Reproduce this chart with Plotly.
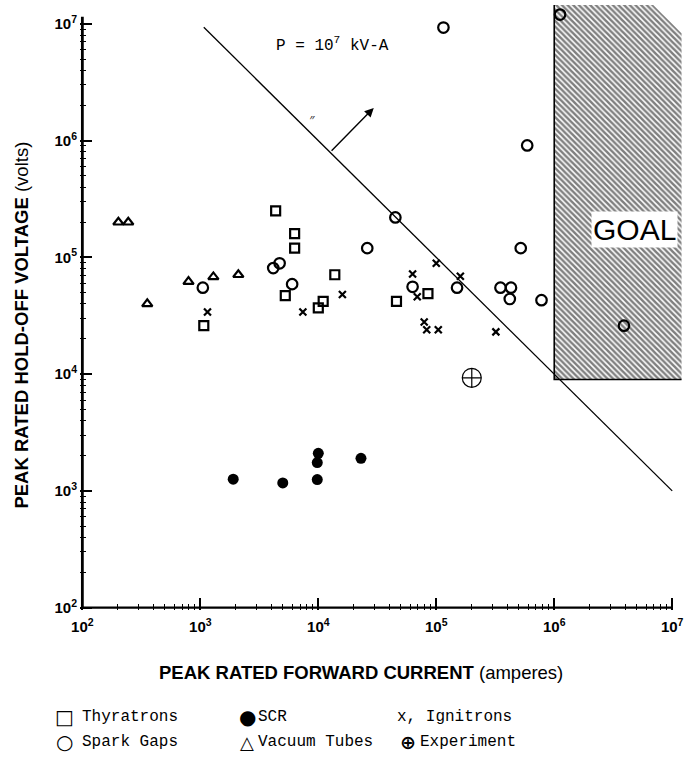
import numpy as np
import plotly.graph_objects as go

# ---------------- data (current in A, voltage in V) ----------------
thy_i = [1070, 4350, 6300, 6300, 5250, 10000, 11000, 13800, 46000, 85000]
thy_v = [2.6e4, 2.5e5, 1.6e5, 1.2e5, 4.7e4, 3.7e4, 4.2e4, 7.1e4, 4.2e4, 4.9e4]

spark_i = [1050, 4150, 4700, 6000, 2.6e4, 4.5e4, 6.3e4, 1.5e5, 3.5e5, 4.3e5,
           4.2e5, 7.8e5, 5.2e5, 1.15e5, 5.9e5, 1.12e6, 3.9e6]
spark_v = [5.5e4, 8.1e4, 8.9e4, 5.9e4, 1.2e5, 2.2e5, 5.6e4, 5.5e4, 5.5e4, 5.5e4,
           4.4e4, 4.3e4, 1.2e5, 9.3e6, 9.1e5, 1.2e7, 2.6e4]

ign_i = [1150, 7400, 1.6e4, 6.3e4, 6.9e4, 7.9e4, 8.3e4, 1.04e5, 1.6e5, 3.2e5, 1.0e5]
ign_v = [3.4e4, 3.4e4, 4.8e4, 7.2e4, 4.6e4, 2.8e4, 2.4e4, 2.4e4, 6.9e4, 2.3e4, 8.9e4]

vac_i = [202, 245, 355, 794, 1290, 2100]
vac_v = [2.0e5, 2.0e5, 4.0e4, 6.2e4, 6.8e4, 7.1e4]

scr_i = [1900, 5000, 9800, 9800, 10000, 2.3e4]
scr_v = [1.26e3, 1.17e3, 1.25e3, 1.75e3, 2.1e3, 1.9e3]

exp_i = [2.0e5]
exp_v = [9.3e3]

# constant power line P = 10^7 kV-A = 1e10 V*A
power_va = 1e10
line_i = [1.07e3, 1e7]

# GOAL region outline (current, voltage)
goal_i = [1e6, 1e6, 6.9e6, 1.2e7, 1.2e7, 1e6]
goal_v = [9e3, 1.45e7, 1.45e7, 8.3e6, 9e3, 9e3]

# axis extents (values)
x_axis_span = [1e2, 1e7]
y_axis_span = [1e2, 1.15e7]

tick_exps = [2, 3, 4, 5, 6, 7]
tick_vals = [10 ** e for e in tick_exps]
tick_text = [f"<b>10<sup>{e}</sup></b>" for e in tick_exps]

# ---------------- figure ----------------
fig = go.Figure()

# hatched GOAL region
fig.add_trace(go.Scatter(
    x=goal_i, y=goal_v, mode="lines", fill="toself",
    line=dict(width=0, color="rgba(0,0,0,0)"),
    fillcolor="white",
    fillpattern=dict(shape="\\", fgcolor="black", bgcolor="white", size=4, solidity=0.62),
    hoverinfo="skip", showlegend=False))
# left and bottom border of GOAL
fig.add_trace(go.Scatter(
    x=[goal_i[1], goal_i[0], goal_i[4]], y=[goal_v[1], goal_v[0], goal_v[4]],
    mode="lines", line=dict(color="black", width=1.6), showlegend=False, hoverinfo="skip"))

# axis lines
fig.add_trace(go.Scatter(x=[x_axis_span[0], x_axis_span[0]], y=y_axis_span, mode="lines",
                         line=dict(color="black", width=2.8), cliponaxis=False,
                         showlegend=False, hoverinfo="skip"))
fig.add_trace(go.Scatter(x=x_axis_span, y=[y_axis_span[0], y_axis_span[0]], mode="lines",
                         line=dict(color="black", width=2.2), cliponaxis=False,
                         showlegend=False, hoverinfo="skip"))

# constant power line
fig.add_trace(go.Scatter(
    x=line_i, y=[power_va / i for i in line_i], mode="lines",
    line=dict(color="black", width=1.3), showlegend=False, hoverinfo="skip"))

mk_line = dict(color="black", width=2.2)
fig.add_trace(go.Scatter(x=thy_i, y=thy_v, mode="markers", name="Thyratrons",
                         marker=dict(symbol="square-open", size=9, color="black", line=mk_line),
                         cliponaxis=False))
fig.add_trace(go.Scatter(x=spark_i, y=spark_v, mode="markers", name="Spark Gaps",
                         marker=dict(symbol="circle-open", size=10.5, color="black", line=mk_line),
                         cliponaxis=False))
fig.add_trace(go.Scatter(x=ign_i, y=ign_v, mode="markers", name="Ignitrons",
                         marker=dict(symbol="x-thin-open", size=7, color="black", line=mk_line),
                         cliponaxis=False))
fig.add_trace(go.Scatter(x=vac_i, y=vac_v, mode="markers", name="Vacuum Tubes",
                         marker=dict(symbol="triangle-up-open", size=9, color="black", line=mk_line),
                         cliponaxis=False))
fig.add_trace(go.Scatter(x=scr_i, y=scr_v, mode="markers", name="SCR",
                         marker=dict(symbol="circle", size=11, color="black"),
                         cliponaxis=False))
fig.add_trace(go.Scatter(x=exp_i, y=exp_v, mode="markers", name="Experiment",
                         marker=dict(symbol="circle-cross-open", size=19, color="black",
                                     line=dict(color="black", width=1.2)),
                         cliponaxis=False))

axis_common = dict(
    type="log", showgrid=False, zeroline=False, showline=False,
    tickmode="array", tickvals=tick_vals, ticktext=tick_text,
    ticks="inside", ticklen=12, tickwidth=1.5, tickcolor="black",
    tickfont=dict(family="Liberation Sans, Arial", size=15, color="black"),
    minor=dict(ticks="inside", ticklen=6, tickwidth=1.3, tickcolor="black",
               dtick="D1", showgrid=False),
)

fig.update_layout(
    width=688, height=760,
    margin=dict(l=80, r=4, t=4, b=150),
    paper_bgcolor="white", plot_bgcolor="white",
    showlegend=False,
    xaxis=dict(range=[1.98, 7.1], ticklabelstandoff=6, **axis_common),
    yaxis=dict(range=[1.98, 7.17], ticklabelstandoff=2, **axis_common),
)

# arrow normal to the power line
fig.add_annotation(x=4.47, y=6.28, ax=4.10, ay=5.90, xref="x", yref="y",
                   axref="x", ayref="y", showarrow=True, arrowhead=2, arrowsize=1.3,
                   arrowwidth=1.4, arrowcolor="black", text="")
fig.add_annotation(x=3.95, y=6.18, xref="x", yref="y", text="<i>\u2033</i>",
                   showarrow=False, font=dict(size=13, color="#333"))

# power label
fig.add_annotation(x=4.12, y=6.82, xref="x", yref="y",
                   text="P = 10<sup>7</sup> kV-A", showarrow=False,
                   font=dict(family="Liberation Mono, Courier New", size=16, color="black"))

# GOAL label
fig.add_annotation(x=6.68, y=5.24, xref="x", yref="y", text="GOAL", showarrow=False,
                   bgcolor="white", borderpad=1,
                   font=dict(family="Liberation Sans, Arial", size=30, color="black"))

# axis titles
fig.add_annotation(x=-0.097, y=0.47, xref="paper", yref="paper", textangle=-90,
                   text="<b>PEAK RATED HOLD-OFF VOLTAGE</b> (volts)", showarrow=False,
                   xanchor="center", yanchor="middle",
                   font=dict(family="Liberation Sans, Arial", size=18.5, color="black"))
fig.add_annotation(x=0.465, y=-0.103, xref="paper", yref="paper",
                   text="<b>PEAK RATED FORWARD CURRENT</b> (amperes)", showarrow=False,
                   xanchor="center", yanchor="middle",
                   font=dict(family="Liberation Sans, Arial", size=18.5, color="black"))

# legend (custom, below the plot)
def px_to_paper(px, py):
    return (px - 80) / 604.0, (610 - py) / 606.0

legend_symbols = [
    (64, 717, "\u25a1", 20),
    (64, 742, "\u25cb", 20),
    (247, 717, "\u25cf", 20),
    (247, 742, "\u25b3", 18),
    (408, 742, "\u2295", 19),
]
for px, py, sym, sz in legend_symbols:
    lx, ly = px_to_paper(px, py)
    fig.add_annotation(x=lx, y=ly, xref="paper", yref="paper", text=f"<b>{sym}</b>",
                       showarrow=False, xanchor="center", yanchor="middle",
                       font=dict(family="DejaVu Sans", size=sz, color="black"))

legend_labels = [
    (80, 717, "Thyratrons"),
    (80, 742, "Spark Gaps"),
    (256, 717, "SCR"),
    (256, 742, "Vacuum Tubes"),
    (395, 717, "x, Ignitrons"),
    (418, 742, "Experiment"),
]
for px, py, txt in legend_labels:
    lx, ly = px_to_paper(px, py)
    fig.add_annotation(x=lx, y=ly, xref="paper", yref="paper", text=txt,
                       showarrow=False, xanchor="left", yanchor="middle",
                       font=dict(family="Liberation Mono, Courier New", size=16, color="black"))

fig.write_html("out.html")
